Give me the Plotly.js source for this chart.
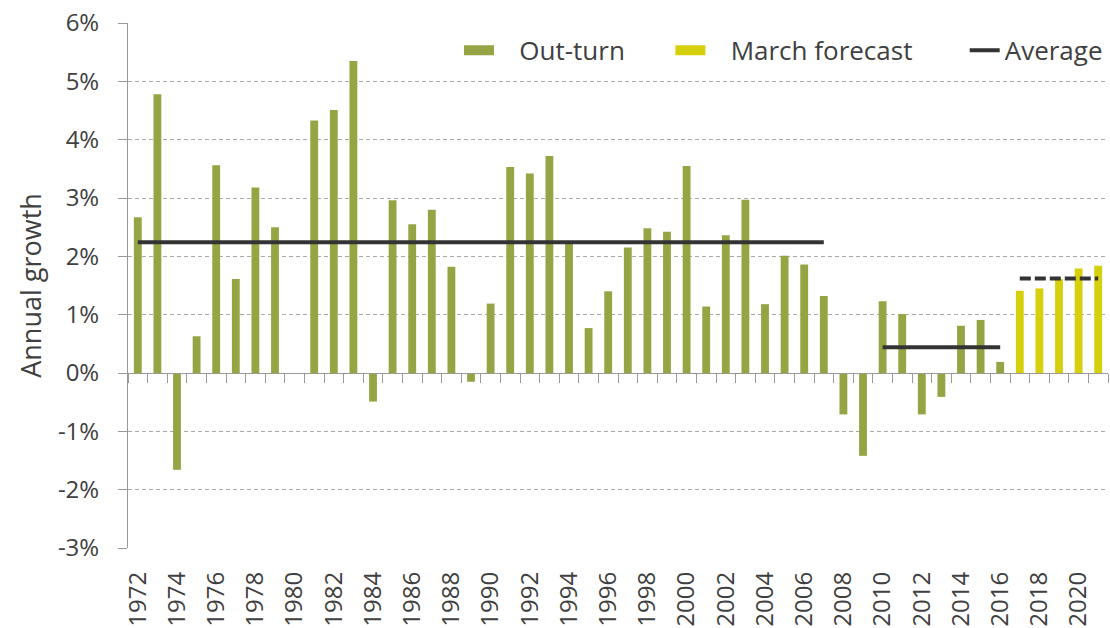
<!DOCTYPE html>
<html>
<head>
<meta charset="utf-8">
<script src="https://cdn.plot.ly/plotly-3.0.1.min.js"></script>
<style>html,body{margin:0;padding:0;background:#fff;}#chart{width:1110px;height:628px;}</style>
</head>
<body>
<div id="chart"></div>
<script>
// Out-turn years and annual growth (%)
const outturnYears = [1972,1973,1974,1975,1976,1977,1978,1979,1980,1981,1982,1983,1984,1985,1986,1987,1988,1989,1990,1991,1992,1993,1994,1995,1996,1997,1998,1999,2000,2001,2002,2003,2004,2005,2006,2007,2008,2009,2010,2011,2012,2013,2014,2015,2016];
const outturnValues = [2.67,4.78,-1.66,0.63,3.56,1.61,3.18,2.50,0,4.33,4.51,5.35,-0.49,2.96,2.55,2.80,1.82,-0.15,1.19,3.53,3.42,3.72,2.25,0.77,1.40,2.15,2.48,2.42,3.55,1.14,2.36,2.97,1.18,2.01,1.86,1.32,-0.71,-1.42,1.23,1.01,-0.71,-0.41,0.81,0.91,0.19];
// March forecast
const forecastYears = [2017,2018,2019,2020,2021];
const forecastValues = [1.41,1.45,1.61,1.79,1.84];
// Period averages
const avg1Years = [1972,2007];
const avg1Values = [2.24,2.24];
const avg2Years = [2010,2016];
const avg2Values = [0.44,0.44];
const avg3Years = [2017,2021];
const avg3Values = [1.62,1.62];
// Axis ticks
const yTickVals = [-3,-2,-1,0,1,2,3,4,5,6];
const yTickText = ["-3%","-2%","-1%","0%","1%","2%","3%","4%","5%","6%"];
const xRange = [1971.5, 2021.5];
const yRange = [-3, 6];

const green = '#97A444';
const yellow = '#D5CF0C';
const lineCol = '#333333';
const font = '"Open Sans", "Noto Sans", sans-serif';
const sp = n => '\u00a0'.repeat(n);

const traces = [
  {type:'bar', name:'Out-turn', x:outturnYears, y:outturnValues, marker:{color:green}, width:0.4, showlegend:false},
  {type:'bar', name:'March forecast', x:forecastYears, y:forecastValues, marker:{color:yellow}, width:0.4, showlegend:false},
  {type:'scatter', mode:'lines', name:'Average', x:avg1Years, y:avg1Values, line:{color:lineCol, width:4}, showlegend:false},
  {type:'scatter', mode:'lines', name:'Average', x:avg2Years, y:avg2Values, line:{color:lineCol, width:4}, showlegend:false},
  {type:'scatter', mode:'lines', name:'Average', x:avg3Years, y:avg3Values, line:{color:lineCol, width:4, dash:'11px,4px'}, showlegend:false},
  // legend entries (wide swatches like the reference)
  {type:'scatter', mode:'lines', name:sp(3)+'Out-turn'+sp(6), x:[null], y:[null], line:{color:green, width:16}},
  {type:'scatter', mode:'lines', name:sp(3)+'March forecast'+sp(7), x:[null], y:[null], line:{color:yellow, width:16}},
  {type:'scatter', mode:'lines', name:'Average', x:[null], y:[null], line:{color:lineCol, width:4}},
  // invisible trace to draw the category boundary ticks on the zero axis
  {type:'scatter', mode:'lines', x:xRange, y:[0,0], xaxis:'x2', line:{width:0}, showlegend:false, hoverinfo:'skip'}
];

const zeroPos = (0 - yRange[0])/(yRange[1]-yRange[0]);

const layout = {
  width:1110, height:628,
  margin:{l:128, r:2, t:23, b:80},
  paper_bgcolor:'#fff', plot_bgcolor:'#fff',
  font:{family:font, color:'#404040', size:24},
  barmode:'overlay',
  showlegend:true,
  legend:{orientation:'h', x:1, xanchor:'right', y:0.948, yanchor:'middle', font:{size:26, color:'#404040'}, bgcolor:'rgba(0,0,0,0)', itemwidth:30, tracegroupgap:0},
  xaxis:{
    type:'linear', range:xRange, tick0:1972, dtick:2, tickangle:-90,
    ticks:'', showgrid:false, zeroline:false, showline:false,
    tickfont:{size:24, color:'#404040'}, ticklabelstandoff:18
  },
  xaxis2:{
    type:'linear', range:xRange, overlaying:'x', anchor:'free', position:zeroPos,
    tick0:1971.5, dtick:1, ticks:'outside', ticklen:9, tickcolor:'#999', tickwidth:1,
    showticklabels:false, showgrid:false, zeroline:false, showline:true, linecolor:'#999', linewidth:1
  },
  yaxis:{
    range:yRange, tickvals:yTickVals, ticktext:yTickText,
    showgrid:true, gridcolor:'#aaaaaa', griddash:'4px,3px', gridwidth:1,
    zeroline:false, showline:true, linecolor:'#999', linewidth:1,
    ticks:'outside', ticklen:9, tickcolor:'#999',
    tickfont:{size:24, color:'#404040'}, ticklabelstandoff:14,
    title:{text:'Annual growth', font:{size:27, color:'#404040'}, standoff:8}
  }
};

Plotly.newPlot('chart', traces, layout, {displayModeBar:false, staticPlot:true});
</script>
</body>
</html>
